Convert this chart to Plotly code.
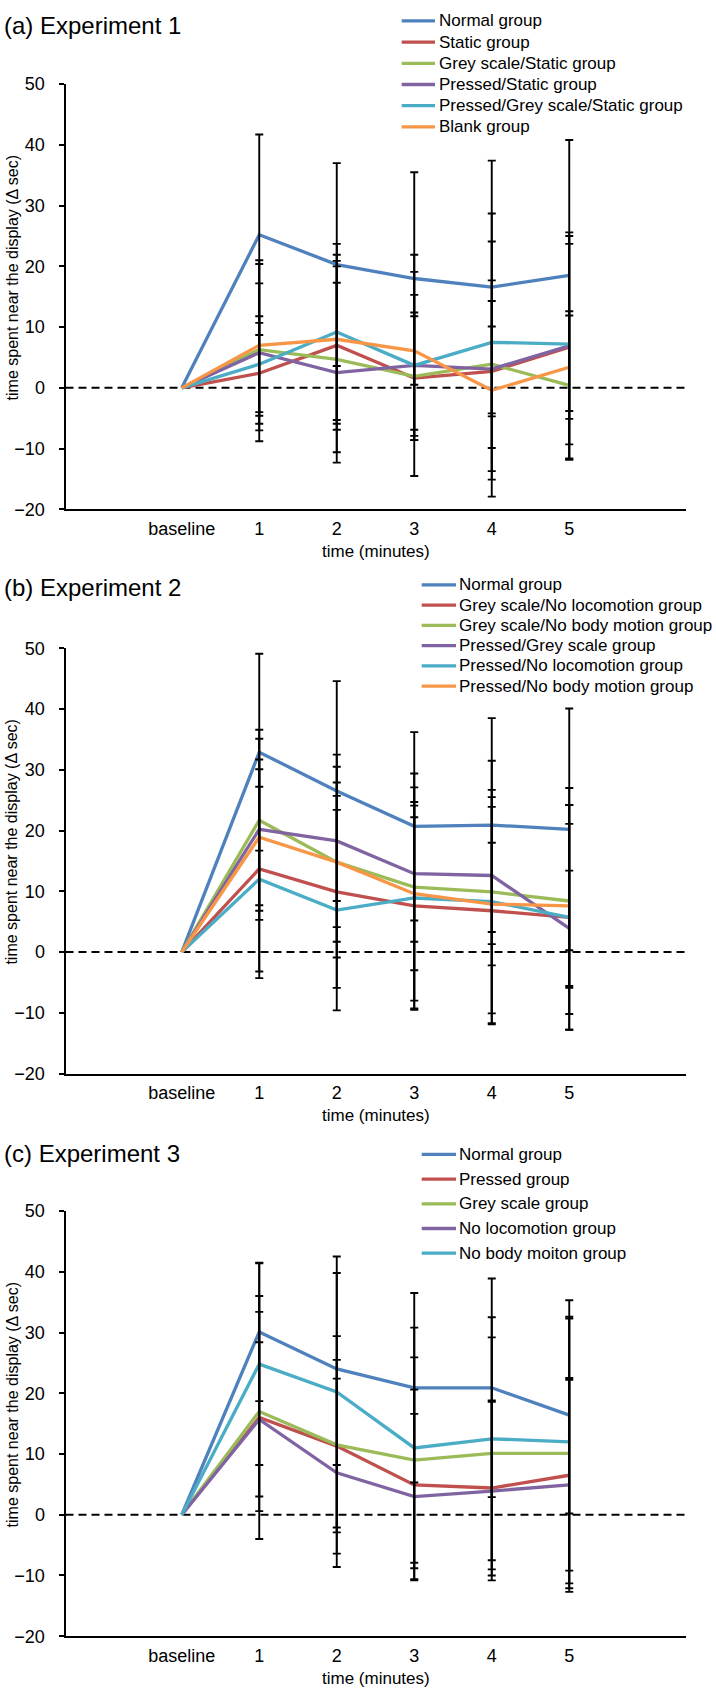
import plotly.graph_objects as go

# ---------------- data ----------------
categories = ["baseline", "1", "2", "3", "4", "5"]
y_tick_values = [-20, -10, 0, 10, 20, 30, 40, 50]

# Experiment 1
exp1_groups = ["Normal group", "Static group", "Grey scale/Static group",
               "Pressed/Static group", "Pressed/Grey scale/Static group", "Blank group"]
exp1_normal = [0, 25.2, 20.3, 18.0, 16.6, 18.5]
exp1_static = [0, 2.4, 7.0, 1.6, 2.7, 6.7]
exp1_grey_static = [0, 6.3, 4.7, 1.9, 3.9, 0.4]
exp1_pressed_static = [0, 5.8, 2.5, 3.7, 3.1, 6.9]
exp1_pressed_grey_static = [0, 3.9, 9.2, 3.7, 7.5, 7.2]
exp1_blank = [0, 7.0, 8.0, 6.1, -0.4, 3.4]
exp1_normal_err = [16.5, 16.7, 17.5, 20.8, 22.3]
exp1_static_err = [8.3, 13.9, 10.2, 7.4, 18.3]
exp1_grey_static_err = [10.9, 15.3, 10.5, 13.8, 12.2]
exp1_pressed_static_err = [14.6, 14.8, 18.2, 21.0, 18.7]
exp1_pressed_grey_static_err = [7.9, 14.5, 11.6, 21.2, 16.5]
exp1_blank_err = [14.0, 13.9, 13.0, 14.7, 8.5]

# Experiment 2
exp2_groups = ["Normal group", "Grey scale/No locomotion group", "Grey scale/No body motion group",
               "Pressed/Grey scale group", "Pressed/No locomotion group", "Pressed/No body motion group"]
exp2_normal = [0, 32.9, 26.5, 20.7, 20.9, 20.2]
exp2_grey_noloco = [0, 13.7, 9.9, 7.6, 6.8, 5.7]
exp2_grey_nobody = [0, 21.7, 14.8, 10.7, 9.9, 8.4]
exp2_pressed_grey = [0, 20.2, 18.3, 12.9, 12.6, 3.9]
exp2_pressed_noloco = [0, 12.0, 6.9, 8.9, 8.3, 5.7]
exp2_pressed_nobody = [0, 18.9, 14.8, 9.6, 7.9, 7.6]
exp2_normal_err = [16.2, 18.1, 15.5, 17.6, 19.9]
exp2_grey_noloco_err = [18.0, 15.8, 17.1, 18.7, 18.5]
exp2_grey_nobody_err = [14.9, 15.7, 18.7, 21.6, 18.6]
exp2_pressed_grey_err = [14.9, 14.2, 11.2, 11.3, 9.5]
exp2_pressed_noloco_err = [15.2, 16.5, 18.2, 18.4, 18.5]
exp2_pressed_nobody_err = [11.2, 13.1, 12.6, 10.1, 13.5]

# Experiment 3
exp3_groups = ["Normal group", "Pressed group", "Grey scale group",
               "No locomotion group", "No body moiton group"]
exp3_normal = [0, 30.1, 24.0, 20.9, 20.9, 16.4]
exp3_pressed = [0, 16.0, 11.3, 4.9, 4.4, 6.5]
exp3_grey = [0, 17.0, 11.5, 9.0, 10.1, 10.1]
exp3_noloco = [0, 15.7, 6.9, 3.0, 3.9, 4.9]
exp3_nobody = [0, 24.8, 20.2, 11.0, 12.5, 12.0]
exp3_normal_err = [11.4, 15.8, 15.6, 18.0, 16.2]
exp3_pressed_err = [20.0, 14.2, 15.7, 14.4, 15.7]
exp3_grey_err = [16.4, 17.9, 16.9, 19.1, 22.2]
exp3_noloco_err = [12.7, 15.5, 13.6, 14.7, 17.6]
exp3_nobody_err = [16.6, 22.3, 19.8, 20.0, 23.3]

# ---------------- style / layout ----------------
W, H = 716, 1700
FONT = "Liberation Sans, Arial, sans-serif"
TFONT = "Liberation Sans, Arial, sans-serif"
COLORS = ["#4F81BD", "#C0504D", "#9BBB59", "#8064A2", "#4BACC6", "#F79646"]
TICK_SIZE = 18
LEG_SIZE = 17


def fx(px):
    return px / W


def fy(py):
    return 1 - py / H


panels = [
    dict(title="(a) Experiment 1", names=exp1_groups,
         means=[exp1_normal, exp1_static, exp1_grey_static, exp1_pressed_static,
                exp1_pressed_grey_static, exp1_blank],
         errs=[exp1_normal_err, exp1_static_err, exp1_grey_static_err, exp1_pressed_static_err,
               exp1_pressed_grey_static_err, exp1_blank_err],
         top=75.0, bottom=505.3, title_y=16, leg_y0=11, leg_dy=21.46,
         leg_x0=401.7, leg_x1=435, leg_tx=437, ytitle_y=271.6, xtitle_y=548),
    dict(title="(b) Experiment 2", names=exp2_groups,
         means=[exp2_normal, exp2_grey_noloco, exp2_grey_nobody, exp2_pressed_grey,
                exp2_pressed_noloco, exp2_pressed_nobody],
         errs=[exp2_normal_err, exp2_grey_noloco_err, exp2_grey_nobody_err, exp2_pressed_grey_err,
               exp2_pressed_noloco_err, exp2_pressed_nobody_err],
         top=645.9, bottom=1076.2, title_y=584, leg_y0=581.7, leg_dy=20.5,
         leg_x0=421.7, leg_x1=456, leg_tx=456.5, ytitle_y=842.5, xtitle_y=1119),
    dict(title="(c) Experiment 3", names=exp3_groups,
         means=[exp3_normal, exp3_pressed, exp3_grey, exp3_noloco, exp3_nobody],
         errs=[exp3_normal_err, exp3_pressed_err, exp3_grey_err, exp3_noloco_err, exp3_nobody_err],
         top=1215.3, bottom=1645.6, title_y=1157, leg_y0=1158, leg_dy=25,
         leg_x0=421.7, leg_x1=456, leg_tx=456.5, ytitle_y=1412, xtitle_y=1688),
]

PLOT_L, PLOT_R = 65.5, 685.5

fig = go.Figure()
annotations = []
shapes = []

for k, p in enumerate(panels):
    sfx = "" if k == 0 else str(k + 1)
    xa, ya = "x" + sfx, "y" + sfx
    # lines
    for i, (name, m) in enumerate(zip(p["names"], p["means"])):
        fig.add_trace(go.Scatter(
            x=categories, y=m, mode="lines", name=name, showlegend=False,
            line=dict(color=COLORS[i], width=3.3), xaxis=xa, yaxis=ya,
            hoverinfo="skip"))
    # error bars (not at baseline)
    for i, (m, e) in enumerate(zip(p["means"], p["errs"])):
        fig.add_trace(go.Scatter(
            x=categories[1:], y=m[1:], mode="markers", showlegend=False,
            marker=dict(size=1, color="rgba(0,0,0,0)"),
            error_y=dict(type="data", array=e, visible=True, color="black",
                         thickness=1.9, width=4),
            xaxis=xa, yaxis=ya, hoverinfo="skip"))

    fig.update_layout(**{
        "xaxis" + sfx: dict(
            domain=[fx(PLOT_L), fx(PLOT_R)], anchor=ya, type="category",
            categoryorder="array", categoryarray=categories, range=[-1.5, 6.5],
            showline=True, linecolor="black", linewidth=2, ticks="", ticklen=0,
            showgrid=False, zeroline=False, fixedrange=True,
            tickfont=dict(family=FONT, size=TICK_SIZE, color="black"),
            ticklabelstandoff=2),
        "yaxis" + sfx: dict(
            domain=[fy(p["bottom"]), fy(p["top"])], anchor=xa,
            range=[-20, 50], tickmode="array", tickvals=y_tick_values,
            showline=True, linecolor="black", linewidth=2,
            ticks="outside", ticklen=5, tickwidth=1.5, tickcolor="black",
            showgrid=False, zeroline=False, fixedrange=True,
            tickfont=dict(family=FONT, size=TICK_SIZE, color="black"),
            ticklabelstandoff=10),
    })

    # dashed zero line
    shapes.append(dict(type="line", xref=xa + " domain", x0=0, x1=1, yref=ya, y0=0, y1=0,
                       line=dict(color="black", width=2, dash="8px,5px"), layer="below"))

    # panel title
    annotations.append(dict(text=p["title"], xref="paper", yref="paper",
                            x=fx(2), y=fy(p["title_y"]), xanchor="left", yanchor="middle",
                            showarrow=False, font=dict(family=TFONT, size=24, color="black")))
    # y title
    annotations.append(dict(text="time spent near the display (\u0394 sec)", xref="paper", yref="paper",
                            x=fx(12), y=fy(p["ytitle_y"]), xanchor="center", yanchor="middle",
                            textangle=-90, showarrow=False,
                            font=dict(family=FONT, size=16, color="black")))
    # x title
    annotations.append(dict(text="time (minutes)", xref="paper", yref="paper",
                            x=fx((PLOT_L + PLOT_R) / 2), y=fy(p["xtitle_y"]),
                            xanchor="center", yanchor="middle", showarrow=False,
                            font=dict(family=FONT, size=17, color="black")))
    # legend (manual)
    for i, name in enumerate(p["names"]):
        ry = p["leg_y0"] + i * p["leg_dy"]
        shapes.append(dict(type="line", xref="paper", yref="paper",
                           x0=fx(p["leg_x0"]), x1=fx(p["leg_x1"]), y0=fy(ry), y1=fy(ry),
                           line=dict(color=COLORS[i], width=3.3)))
        annotations.append(dict(text=name, xref="paper", yref="paper",
                                x=fx(p["leg_tx"]), y=fy(ry), xanchor="left", yanchor="middle",
                                showarrow=False, font=dict(family=FONT, size=LEG_SIZE, color="black")))

fig.update_layout(
    width=W, height=H, autosize=False,
    margin=dict(l=0, r=0, t=0, b=0, pad=0),
    paper_bgcolor="white", plot_bgcolor="white",
    showlegend=False, shapes=shapes, annotations=annotations,
    font=dict(family=FONT, color="black"),
)

fig.write_html("out.html", config={"displayModeBar": False},
               post_script="document.body.style.margin='0';document.body.style.overflow='hidden';")
